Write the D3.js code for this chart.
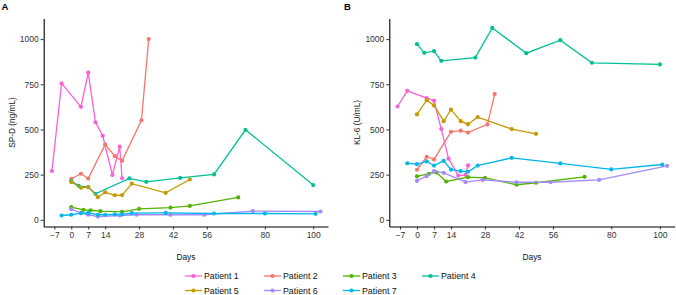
<!DOCTYPE html>
<html><head><meta charset="utf-8">
<script src="https://cdn.jsdelivr.net/npm/d3@7"></script>
<style>body{margin:0;background:#fff}svg{display:block;font-family:"Liberation Sans",Arial,sans-serif}</style>
</head><body>
<svg id="c" width="676" height="295"></svg>
<script>
const patients = ["Patient 1","Patient 2","Patient 3","Patient 4","Patient 5","Patient 6","Patient 7"];
const colors = ["#FB61D7","#F8766D","#53B400","#00C094","#C49A00","#A58AFF","#00B6EB"];
const days = [
  [-8,-4,4,7,10,13,17,20,21],
  [0,4,7,14,18,21,29,32],
  [0,5,8,12,21,28,41,49,69],
  [0,3,7,10,24,31,45,59,72,100],
  [0,4,7,11,14,18,21,25,39,49],
  [0,4,7,11,20,27,41,55,75,103],
  [-4,0,4,7,11,14,18,21,25,39,59,80,101]
];
const spd = [
  [270,755,625,815,540,465,248,405,230],
  [227,255,228,417,352,327,551,1000],
  [70,55,53,48,44,61,68,77,124],
  [214,188,181,144,229,210,232,251,498,192],
  [209,177,181,125,152,136,137,200,149,223],
  [59,37,28,18,24,28,28,28,48,46],
  [24,28,37,38,28,28,30,30,37,38,35,35,33]
];
const kl6 = [
  [627,714,673,659,502,339,245,249,301],
  [277,349,334,487,493,483,528,696],
  [240,255,262,212,236,232,194,205,238],
  [972,924,933,880,898,1062,922,994,869,860],
  [583,662,633,546,610,546,529,568,502,476],
  [216,242,269,260,209,221,208,208,221,299],
  [313,308,323,300,326,278,269,266,300,343,312,279,306]
];
const xTicks = [-7,0,7,14,28,42,56,80,100];
const yTicks = [0,250,500,750,1000];

const svg = d3.select("#c");
const fmtX = d => d < 0 ? "\u2212" + Math.abs(d) : String(d);

function panel(x0, x1, values, ylab, tag){
  const x = d3.scaleLinear().domain([-11.4,106.1]).range([x0,x1]);
  const y = d3.scaleLinear().domain([-37,1114]).range([226.5,18.5]);
  const g = svg.append("g");
  const xa = g.append("g").attr("transform","translate(0,226.5)")
    .call(d3.axisBottom(x).tickValues(xTicks).tickFormat(fmtX).tickSize(3).tickPadding(2).tickSizeOuter(0));
  const ya = g.append("g").attr("transform",`translate(${x0},0)`)
    .call(d3.axisLeft(y).tickValues(yTicks).tickFormat(d=>String(d)).tickSize(3).tickPadding(2).tickSizeOuter(0));
  [xa,ya].forEach(a=>{
    a.select(".domain").attr("stroke","#000").attr("stroke-width",1.1);
    a.selectAll(".tick line").attr("stroke","#333").attr("stroke-width",1);
    a.selectAll(".tick text").attr("fill","#333").attr("font-size",8.5).attr("font-family","Liberation Sans, Arial, sans-serif");
  });
  const line = d3.line().x(d=>x(d[0])).y(d=>y(d[1]));
  patients.forEach((p,i)=>{
    const pts = days[i].map((d,j)=>[d, values[i][j]]);
    g.append("path").attr("d", line(pts)).attr("fill","none")
      .attr("stroke", colors[i]).attr("stroke-width",1.3);
    g.selectAll(null).data(pts).enter().append("circle")
      .attr("cx", d=>x(d[0])).attr("cy", d=>y(d[1])).attr("r",2.1).attr("fill",colors[i]);
  });
  g.append("text").attr("transform",`translate(${x0-32},${(18.5+226.5)/2}) rotate(-90)`)
    .attr("text-anchor","middle").attr("font-size",8.3).attr("fill","#111").attr("dy","0.35em").text(ylab);
  g.append("text").attr("x",(x0+x1)/2).attr("y",260).attr("text-anchor","middle")
    .attr("font-size",8.3).attr("fill","#111").text("Days");
  g.append("text").attr("x", tag.x).attr("y", 9.5).attr("font-size",9.5).attr("font-weight","bold").text(tag.t);
}
panel(43.7, 328, spd, "SP-D (ng/mL)", {x:1.5,t:"A"});
panel(389.3, 674.7, kl6, "KL-6 (U/mL)", {x:344,t:"B"});

// legend
const lg = svg.append("g");
patients.forEach((p,i)=>{
  const col = i % 4, row = Math.floor(i/4);
  const lx = 185 + col*79, ly = 276 + row*14.5;
  lg.append("line").attr("x1",lx).attr("x2",lx+17).attr("y1",ly).attr("y2",ly)
    .attr("stroke",colors[i]).attr("stroke-width",1.3);
  lg.append("circle").attr("cx",lx+8.5).attr("cy",ly).attr("r",2.1).attr("fill",colors[i]);
  lg.append("text").attr("x",lx+19).attr("y",ly).attr("dy","0.35em").attr("font-size",8.8)
    .attr("fill","#111").text(p);
});
</script>
</body></html>
